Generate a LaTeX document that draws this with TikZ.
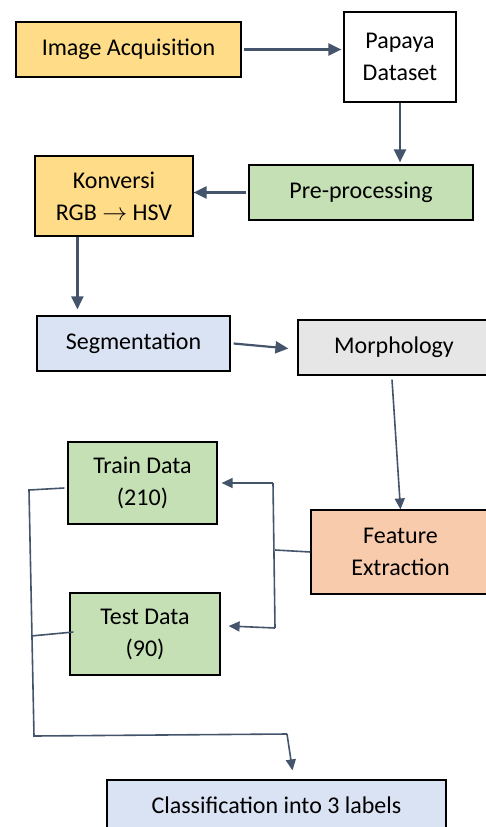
\documentclass[tikz,border=0pt]{standalone}
\usepackage{fontspec}
\setmainfont{Carlito}
\usetikzlibrary{arrows.meta}
\definecolor{boxyellow}{HTML}{FFDD88}
\definecolor{boxgreen}{HTML}{C5E0B4}
\definecolor{boxblue}{HTML}{DAE3F3}
\definecolor{boxgray}{HTML}{E7E6E6}
\definecolor{boxorange}{HTML}{F8CBAD}
\definecolor{linkblue}{HTML}{44546A}
\begin{document}
\begin{tikzpicture}[x=1pt,y=-1pt,
        box/.style={draw=black,line width=1.2pt,inner sep=0pt,align=center,
            font=\fontsize{24}{32}\selectfont},
        flow/.style={draw=linkblue,line width=2.2pt,-{Triangle[length=13pt,width=12pt]}},
        link/.style={draw=linkblue,line width=1.6pt},
        flowthin/.style={link,-{Triangle[length=11pt,width=10pt]}}]
\useasboundingbox (0,0) rectangle (485,827);

% upper chain
\node[box,fill=boxyellow,minimum width=225pt,minimum height=55pt] (acq) at (128.5,49.5) {Image Acquisition};
\node[box,fill=white,minimum width=112pt,minimum height=90pt] (papaya) at (400,57) {Papaya\\Dataset};
\node[box,fill=boxgreen,minimum width=224pt,minimum height=55pt] (pre) at (361,192.5) {Pre-processing};
\node[box,fill=boxyellow,minimum width=158pt,minimum height=80pt] (konv) at (114,196) {Konversi\\RGB $\rightarrow$ HSV};
\node[box,fill=boxblue,minimum width=193pt,minimum height=55pt] (seg) at (133.5,343.5) {Segmentation};
\node[box,fill=boxgray,minimum width=192pt,minimum height=55pt] (morph) at (394,347.5) {Morphology};

% lower part
\node[box,fill=boxorange,minimum width=179pt,minimum height=84pt] (feat) at (400.5,552) {Feature\\Extraction};
\node[box,fill=boxgreen,minimum width=149pt,minimum height=82pt] (train) at (142.5,483) {Train Data\\(210)};
\node[box,fill=boxgreen,minimum width=150pt,minimum height=82pt] (test) at (145,634) {Test Data\\(90)};
\node[box,fill=boxblue,minimum width=339pt,minimum height=56pt] (cls) at (276.5,808) {\raisebox{6pt}{Classification into 3 labels}};

\draw[flow] ([xshift=2pt]acq.east) -- ([xshift=-2pt]acq.east -| papaya.west);
\draw[flow] (papaya.south) -- ([yshift=2pt]papaya.south |- pre.north);
\draw[flow] ([xshift=-2pt]pre.west) -- (pre.west -| konv.east);
\draw[flow] ([xshift=43pt]konv.south west) -- ([xshift=41pt,yshift=6pt]seg.north west);
\draw[flow] ([xshift=3pt]seg.east) -- ([xshift=-9pt,yshift=-1pt]morph.west);
\draw[flowthin] ([xshift=-2pt,yshift=-4pt]morph.south) -- (feat.north);

% split into train and test
\coordinate (ftop) at (273,483);
\coordinate (fmid) at (275,550);
\coordinate (fbot) at (275,628);
\draw[link] (feat.west) -- (fmid);
\draw[link] (ftop) -- (fbot);
\draw[flowthin] (ftop) -- ([xshift=4pt]train.east);
\draw[flowthin] (fbot) -- ([xshift=8pt,yshift=8pt]test.east);

% merge to classification
\coordinate (ltop) at (29,490);
\coordinate (lmid) at (31,636);
\coordinate (lbot) at (34,736);
\coordinate (lturn) at (287,734);
\draw[link] ([xshift=-3pt,yshift=-5pt]train.west) -- (ltop) -- (lbot) -- (lturn);
\draw[link] ([xshift=4pt,yshift=2pt]test.west) -- (lmid);
\draw[flowthin] (lturn) -- ([xshift=16pt,yshift=9pt]cls.north);
\end{tikzpicture}
\end{document}
